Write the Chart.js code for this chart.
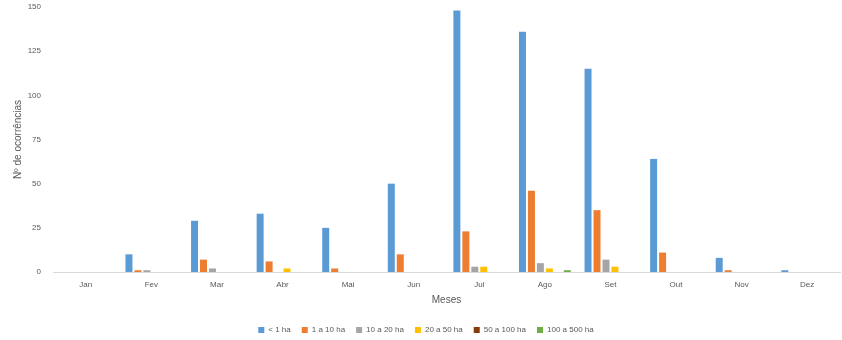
<!DOCTYPE html>
<html>
<head>
<meta charset="utf-8">
<script src="https://cdn.jsdelivr.net/npm/chart.js@4"></script>
<style>
  html, body { margin: 0; padding: 0; background: #fff; }
  #wrap { width: 842px; height: 340px; position: relative; }
</style>
</head>
<body>
<div id="wrap"><canvas id="chart"></canvas></div>
<script>
const months = ['Jan', 'Fev', 'Mar', 'Abr', 'Mai', 'Jun', 'Jul', 'Ago', 'Set', 'Out', 'Nov', 'Dez'];

const lessThan1 = [0, 10, 29, 33, 25, 50, 148, 136, 115, 64, 8, 1];
const from1to10 = [0, 1, 7, 6, 2, 10, 23, 46, 35, 11, 1, 0];
const from10to20 = [0, 1, 2, 0, 0, 0, 3, 5, 7, 0, 0, 0];
const from20to50 = [0, 0, 0, 2, 0, 0, 3, 2, 3, 0, 0, 0];
const from50to100 = [0, 0, 0, 0, 0, 0, 0, 0, 0, 0, 0, 0];
const from100to500 = [0, 0, 0, 0, 0, 0, 0, 1, 0, 0, 0, 0];

const yTicks = [0, 25, 50, 75, 100, 125, 150];

const textColor = '#595959';
const font = { family: 'Liberation Sans, Arial, sans-serif', size: 8 };

function series(label, data, color) {
  return {
    label: label,
    data: data,
    backgroundColor: color,
    borderWidth: 0,
    categoryPercentage: 0.82,
    barPercentage: 0.78
  };
}

const ctx = document.getElementById('chart').getContext('2d');
new Chart(ctx, {
  type: 'bar',
  data: {
    labels: months,
    datasets: [
      series('< 1 ha', lessThan1, '#5B9BD5'),
      series('1 a 10 ha', from1to10, '#ED7D31'),
      series('10 a 20 ha', from10to20, '#A5A5A5'),
      series('20 a 50 ha', from20to50, '#FFC000'),
      series('50 a 100 ha', from50to100, '#843C0C'),
      series('100 a 500 ha', from100to500, '#70AD47')
    ]
  },
  options: {
    responsive: true,
    maintainAspectRatio: false,
    animation: false,
    layout: { padding: { top: 7, right: 2, left: 12, bottom: -4 } },
    plugins: {
      tooltip: { enabled: false },
      legend: {
        position: 'bottom',
        labels: {
          color: textColor,
          font: font,
          boxWidth: 6,
          boxHeight: 6,
          padding: 11
        }
      }
    },
    scales: {
      x: {
        // fixed height so the ticks, title and legend sit where the reference has them
        afterFit: (axis) => { axis.height = 43; },
        grid: { display: false, drawTicks: false },
        border: { color: '#D9D9D9', width: 1 },
        ticks: { color: textColor, font: font, padding: 8 },
        title: {
          display: true,
          text: 'Meses',
          color: textColor,
          font: { family: font.family, size: 10 },
          padding: { top: 0, bottom: 9 }
        }
      },
      y: {
        min: 0,
        max: 150,
        afterBuildTicks: (axis) => { axis.ticks = yTicks.map(v => ({ value: v })); },
        afterFit: (axis) => { axis.width = 41; axis.paddingTop = 0; },
        grid: { display: false, drawTicks: false },
        border: { display: false },
        ticks: { color: textColor, font: font, padding: 12 },
        title: {
          display: true,
          text: 'Nº de ocorrências',
          color: textColor,
          font: { family: font.family, size: 10 },
          padding: { top: 0, bottom: 0 }
        }
      }
    }
  }
});
</script>
</body>
</html>
